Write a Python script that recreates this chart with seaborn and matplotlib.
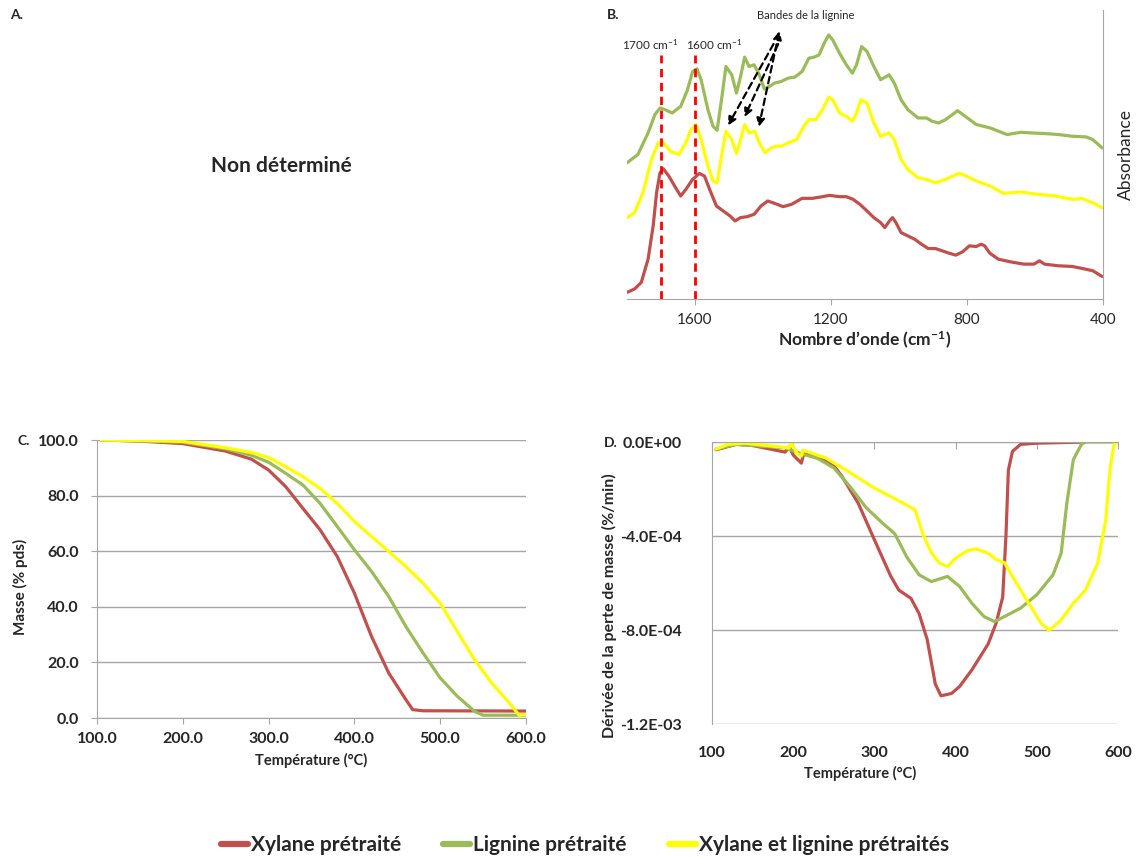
import numpy as np
import pandas as pd
import matplotlib
matplotlib.use('Agg')
import matplotlib.pyplot as plt
import seaborn as sns

series = ['Xylane prétraité', 'Lignine prétraité', 'Xylane et lignine prétraités']
couleurs = ['#C0504D', '#9BBB59', '#FFFF00']

# --- B. spectres IR (nombre d'onde en cm-1, absorbance en u.a.)
ir_wn_xyl = [1800, 1778, 1758, 1738, 1723, 1713, 1703, 1693, 1677, 1657, 1642, 1627, 1607, 1587,
             1572, 1557, 1537, 1517, 1497, 1482, 1466, 1446, 1426, 1406, 1386, 1366, 1341, 1316,
             1285, 1255, 1225, 1205, 1175, 1155, 1135, 1115, 1094, 1074, 1054, 1042, 1028, 1019,
             1009, 994, 974, 954, 934, 914, 893, 873, 853, 833, 813, 793, 773, 758, 748, 733,
             708, 673, 633, 603, 587, 572, 532, 491, 461, 430, 403]
ir_abs_xyl = [0.020, 0.030, 0.050, 0.120, 0.220, 0.320, 0.380, 0.392, 0.370, 0.335, 0.310, 0.330,
              0.360, 0.378, 0.370, 0.330, 0.280, 0.265, 0.250, 0.235, 0.245, 0.248, 0.255, 0.280,
              0.295, 0.288, 0.278, 0.285, 0.303, 0.303, 0.308, 0.312, 0.308, 0.308, 0.300, 0.285,
              0.265, 0.245, 0.230, 0.215, 0.235, 0.245, 0.230, 0.200, 0.190, 0.180, 0.165, 0.152,
              0.152, 0.145, 0.138, 0.132, 0.142, 0.160, 0.158, 0.165, 0.160, 0.138, 0.120, 0.112,
              0.105, 0.105, 0.115, 0.105, 0.100, 0.098, 0.092, 0.085, 0.068]

ir_wn_lig = [1800, 1768, 1738, 1718, 1703, 1688, 1667, 1642, 1622, 1607, 1594, 1582, 1562, 1547,
             1535, 1522, 1509, 1492, 1478, 1466, 1454, 1441, 1426, 1411, 1396, 1381, 1366, 1346,
             1326, 1306, 1285, 1265, 1250, 1235, 1220, 1207, 1195, 1175, 1155, 1137, 1125, 1110,
             1094, 1074, 1054, 1029, 1014, 994, 974, 944, 919, 903, 883, 863, 843, 828, 812, 792,
             772, 732, 682, 641, 611, 570, 530, 490, 450, 430, 403]
ir_abs_lig = [0.410, 0.435, 0.500, 0.555, 0.575, 0.570, 0.560, 0.580, 0.630, 0.685, 0.693, 0.660,
              0.570, 0.520, 0.508, 0.600, 0.700, 0.675, 0.620, 0.670, 0.728, 0.700, 0.705, 0.675,
              0.632, 0.640, 0.650, 0.655, 0.665, 0.668, 0.685, 0.725, 0.728, 0.735, 0.770, 0.795,
              0.780, 0.740, 0.705, 0.680, 0.705, 0.760, 0.745, 0.700, 0.660, 0.675, 0.650, 0.600,
              0.570, 0.545, 0.545, 0.535, 0.530, 0.540, 0.555, 0.567, 0.555, 0.540, 0.525, 0.515,
              0.495, 0.502, 0.500, 0.498, 0.495, 0.490, 0.488, 0.480, 0.455]

ir_wn_mel = [1800, 1778, 1753, 1728, 1708, 1693, 1672, 1647, 1627, 1612, 1597, 1582, 1562, 1547,
             1535, 1522, 1509, 1492, 1478, 1466, 1454, 1441, 1424, 1411, 1394, 1376, 1361, 1346,
             1326, 1301, 1280, 1265, 1245, 1225, 1207, 1195, 1175, 1155, 1137, 1125, 1112, 1094,
             1074, 1054, 1029, 1014, 994, 974, 944, 919, 893, 863, 832, 822, 802, 772, 732, 692,
             641, 590, 540, 490, 461, 430, 403]
ir_abs_mel = [0.245, 0.260, 0.320, 0.420, 0.470, 0.470, 0.445, 0.435, 0.470, 0.510, 0.525, 0.480,
              0.400, 0.355, 0.350, 0.430, 0.505, 0.480, 0.438, 0.480, 0.525, 0.500, 0.505, 0.470,
              0.440, 0.455, 0.460, 0.460, 0.470, 0.480, 0.520, 0.540, 0.540, 0.570, 0.608, 0.600,
              0.560, 0.550, 0.535, 0.560, 0.600, 0.590, 0.530, 0.490, 0.500, 0.480, 0.420, 0.390,
              0.365, 0.360, 0.350, 0.360, 0.375, 0.378, 0.370, 0.355, 0.340, 0.318, 0.322, 0.315,
              0.310, 0.300, 0.302, 0.290, 0.275]

bandes_ref = [1700, 1600]
bandes_lab = ['1700 cm$^{-1}$', '1600 cm$^{-1}$']
bandes_lab_x = [1732, 1544]

# --- C. ATG (température en °C, masse en % pds)
tg_t_xyl = [105, 150, 200, 250, 280, 300, 320, 340, 360, 380, 400, 420, 440, 460, 468, 480, 600]
tg_m_xyl = [100.0, 99.6, 98.7, 96.0, 93.1, 89.2, 83.2, 75.4, 67.7, 58.1, 44.9, 29.3, 16.2, 6.6, 3.0, 2.6, 2.5]
tg_t_lig = [105, 150, 200, 250, 280, 300, 320, 340, 360, 380, 400, 420, 440, 460, 480, 500, 520, 540, 550, 600]
tg_m_lig = [100.0, 99.7, 99.2, 96.8, 94.5, 92.0, 88.0, 83.8, 77.2, 68.9, 60.5, 52.7, 43.7, 32.9,
            23.4, 14.4, 7.8, 2.4, 1.0, 1.0]
tg_t_mel = [105, 150, 200, 250, 280, 300, 320, 340, 360, 380, 400, 420, 440, 460, 480, 500, 520,
            540, 560, 580, 592, 600]
tg_m_mel = [100.0, 99.8, 99.5, 97.2, 95.5, 93.7, 90.4, 86.8, 82.6, 77.2, 70.7, 65.3, 59.9, 54.5,
            48.5, 41.3, 31.1, 21.0, 12.6, 5.6, 1.0, 1.2]

# --- D. DTG (dérivée en 1E-04 %/min)
dtg_t_xyl = [105, 130, 150, 190, 195, 200, 210, 213, 230, 250, 260, 280, 300, 320, 330, 345, 355,
             365, 375, 382, 395, 405, 420, 440, 450, 458, 462, 465, 470, 480, 500, 560]
dtg_d_xyl = [-0.33, -0.10, -0.15, -0.43, -0.20, -0.55, -0.90, -0.50, -0.60, -1.00, -1.46, -2.60,
             -4.16, -5.70, -6.30, -6.65, -7.30, -8.40, -10.3, -10.8, -10.7, -10.4, -9.70, -8.60,
             -7.70, -6.60, -4.00, -1.20, -0.40, -0.10, -0.05, 0.0]
dtg_t_lig = [105, 130, 190, 210, 230, 250, 270, 290, 310, 325, 340, 355, 370, 390, 405, 420, 435,
             448, 460, 480, 500, 520, 530, 537, 545, 555, 560, 600]
dtg_d_lig = [-0.30, -0.10, -0.25, -0.50, -0.70, -1.10, -1.90, -2.80, -3.45, -3.90, -4.90, -5.65,
             -5.94, -5.72, -6.15, -6.86, -7.43, -7.64, -7.43, -7.07, -6.50, -5.65, -4.73, -2.60,
             -0.75, -0.10, 0.0, 0.0]
dtg_t_mel = [105, 120, 140, 195, 197, 205, 210, 212, 240, 270, 300, 330, 350, 360, 370, 380, 390,
             400, 415, 425, 440, 450, 460, 470, 490, 505, 515, 530, 545, 560, 575, 585, 590, 595, 600]
dtg_d_mel = [-0.30, -0.10, -0.05, -0.25, 0.0, -0.50, -0.60, -0.35, -0.68, -1.30, -1.96, -2.50,
             -2.88, -3.95, -4.70, -5.15, -5.30, -4.94, -4.62, -4.55, -4.73, -5.00, -5.13, -5.72,
             -6.86, -7.70, -8.02, -7.57, -6.86, -6.30, -5.16, -3.30, -1.20, -0.10, 0.0]
dtg_ticks = [0, -4e-4, -8e-4, -1.2e-3]
dtg_labels = ['0.0E+00', '-4.0E-04', '-8.0E-04', '-1.2E-03']


def long_df(xs, ys, xname, yname):
    parts = []
    for nom, x, y in zip(series, xs, ys):
        parts.append(pd.DataFrame({xname: x, yname: y, 'serie': nom}))
    return pd.concat(parts, ignore_index=True)


ir = long_df([ir_wn_xyl, ir_wn_lig, ir_wn_mel], [ir_abs_xyl, ir_abs_lig, ir_abs_mel], 'wn', 'abs')
tg = long_df([tg_t_xyl, tg_t_lig, tg_t_mel], [tg_m_xyl, tg_m_lig, tg_m_mel], 'T', 'masse')
dtg = long_df([dtg_t_xyl, dtg_t_lig, dtg_t_mel], [dtg_d_xyl, dtg_d_lig, dtg_d_mel], 'T', 'd')
dtg['d'] = dtg['d'] * 1e-4

sns.set_style('white')
plt.rcParams['font.family'] = ['Lato', 'DejaVu Sans']
plt.rcParams['mathtext.fontset'] = 'custom'
plt.rcParams['mathtext.rm'] = 'Lato'
plt.rcParams['mathtext.default'] = 'regular'
gris = '#a6a6a6'
lw = 2.3
pal = dict(zip(series, couleurs))

W, H = 1137, 858
fig = plt.figure(figsize=(W / 100, H / 100), dpi=100)


def box(l, t, r, b):
    return [l / W, 1 - b / H, (r - l) / W, (b - t) / H]


# A.
fig.text(10 / W, 1 - 15 / H, 'A.', fontsize=10, fontweight='bold', va='center')
fig.text(281 / W, 1 - 166 / H, 'Non déterminé', fontsize=15, fontweight='bold', ha='center', va='center')

# B.
axB = fig.add_axes(box(627, 10, 1103, 299))
sns.lineplot(data=ir, x='wn', y='abs', hue='serie', palette=pal, estimator=None, sort=False,
             lw=lw, legend=False, ax=axB)
axB.set_xlim(1800, 400)
axB.set_ylim(0, 0.87)
axB.set_xticks([1600, 1200, 800, 400])
axB.set_yticks([])
for s in ['top', 'left']:
    axB.spines[s].set_visible(False)
for s in ['bottom', 'right']:
    axB.spines[s].set_color(gris)
axB.tick_params(axis='x', bottom=True, length=4, color=gris, labelsize=11, pad=6)
axB.set_xlabel("Nombre d’onde (cm$^{-1}$)", fontsize=12.5, fontweight='bold', labelpad=2)
axB.set_ylabel('Absorbance', fontsize=12.5)
axB.yaxis.set_label_position('right')
axB.yaxis.set_label_coords(1.032, 0.5)
for wn, lab, lx in zip(bandes_ref, bandes_lab, bandes_lab_x):
    axB.plot([wn, wn], [0, 0.735], color='#FF0000', lw=2, ls=(0, (3, 2)))
    axB.text(lx, 0.765, lab, fontsize=8.5, ha='center', va='center')
axB.text(1275, 0.852, 'Bandes de la lignine', fontsize=8, ha='center', va='center')
arrow_kw = dict(arrowstyle='-|>', color='black', lw=1.6, ls=(0, (3, 2)), mutation_scale=12)
axB.annotate('', xy=(1507, 0.515), xytext=(1365, 0.775), arrowprops=arrow_kw)
axB.annotate('', xy=(1458, 0.540), xytext=(1352, 0.775), arrowprops=arrow_kw)
axB.annotate('', xy=(1414, 0.510), xytext=(1350, 0.815),
             arrowprops=dict(arrow_kw, arrowstyle='<|-|>'))
fig.text(607 / W, 1 - 15 / H, 'B.', fontsize=10, fontweight='bold', va='center')

# C.
axC = fig.add_axes(box(97, 440, 526, 718))
sns.lineplot(data=tg, x='T', y='masse', hue='serie', palette=pal, estimator=None, sort=False,
             lw=lw, legend=False, ax=axC)
axC.set_xlim(100, 600)
axC.set_ylim(0, 100)
axC.set_xticks(np.arange(100, 601, 100))
axC.set_yticks(np.arange(0, 101, 20))
axC.xaxis.set_major_formatter(matplotlib.ticker.FormatStrFormatter('%.1f'))
axC.yaxis.set_major_formatter(matplotlib.ticker.FormatStrFormatter('%.1f'))
axC.grid(axis='y', color=gris, lw=1)
axC.set_axisbelow(True)
for s in ['top', 'right']:
    axC.spines[s].set_visible(False)
for s in ['bottom', 'left']:
    axC.spines[s].set_color(gris)
axC.tick_params(axis='both', length=4, color=gris, labelsize=11.5, bottom=True, left=True)
axC.tick_params(axis='y', pad=9)
axC.tick_params(axis='x', pad=6)
for t in axC.get_xticklabels() + axC.get_yticklabels():
    t.set_fontweight('bold')
axC.set_xlabel('Température (°C)', fontsize=10.5, fontweight='bold', labelpad=5)
axC.set_ylabel('Masse (% pds)', fontsize=11, fontweight='bold')
axC.yaxis.set_label_coords(-0.16, 0.47)
fig.text(17 / W, 1 - 441 / H, 'C.', fontsize=10, fontweight='bold', va='center')

# D.
axD = fig.add_axes(box(712, 442, 1118, 724))
sns.lineplot(data=dtg, x='T', y='d', hue='serie', palette=pal, estimator=None, sort=False,
             lw=lw, legend=False, ax=axD)
axD.set_xlim(100, 600)
axD.set_ylim(-1.2e-3, 0)
axD.set_xticks(np.arange(100, 601, 100))
axD.set_yticks(dtg_ticks)
axD.set_yticklabels(dtg_labels)
axD.grid(axis='y', color=gris, lw=1)
axD.set_axisbelow(True)
for s in ['right', 'bottom']:
    axD.spines[s].set_visible(False)
for s in ['top', 'left']:
    axD.spines[s].set_color(gris)
axD.tick_params(axis='x', top=True, bottom=False, labeltop=False, labelbottom=True,
                direction='in', length=5, color=gris, labelsize=11.5, pad=16)
axD.tick_params(axis='y', left=False, labelsize=11.5, pad=18)
for t in axD.get_xticklabels() + axD.get_yticklabels():
    t.set_fontweight('bold')
axD.set_xlabel('Température (°C)', fontsize=10.5, fontweight='bold')
axD.xaxis.set_label_coords(0.366, -0.15)
axD.set_ylabel('Dérivée de la perte de masse (%/min)', fontsize=11.5, fontweight='bold')
axD.yaxis.set_label_coords(-0.235, 0.42)
fig.text(604 / W, 1 - 443 / H, 'D.', fontsize=10, fontweight='bold', va='center')

# légende commune
handles = [matplotlib.lines.Line2D([], [], color=c, lw=4.5) for c in couleurs]
fig.legend(handles, series, loc='center', bbox_to_anchor=(585 / W, 1 - 845 / H), ncol=3,
           frameon=False, handlelength=1.3, handletextpad=0.15, columnspacing=2.0,
           prop={'size': 15, 'weight': 'bold'})

fig.savefig('out.png', dpi=100)
